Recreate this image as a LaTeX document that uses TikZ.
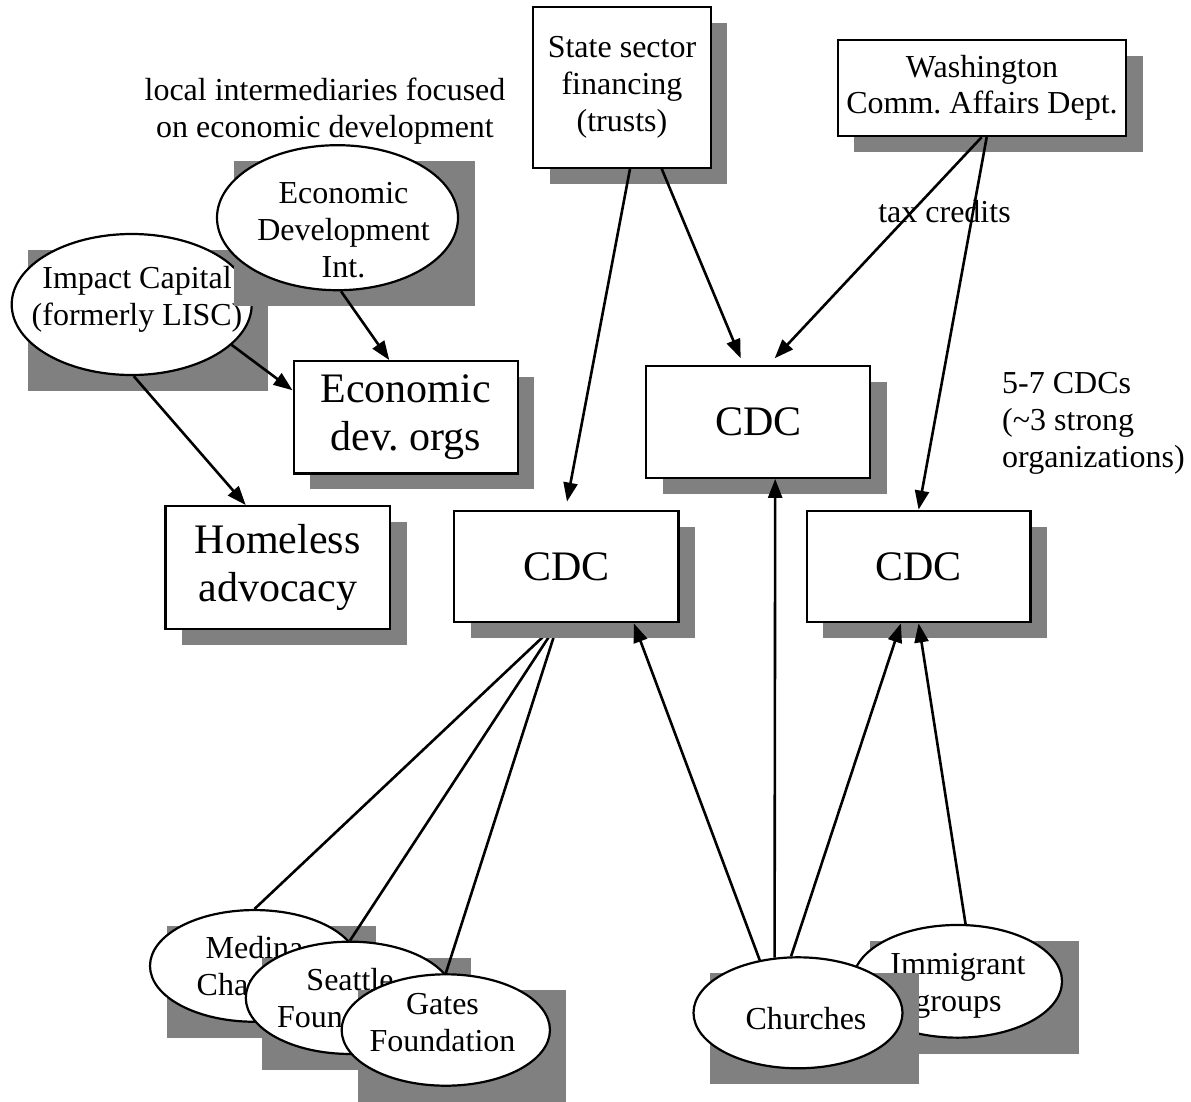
\documentclass[tikz,border=0pt]{standalone}
\usepackage{fontspec}
\setmainfont{Liberation Serif}
\usetikzlibrary{calc,arrows.meta,shapes.geometric}
\newcommand\smallfnt{\fontsize{32}{36.8}\selectfont}
\newcommand\bigfnt{\fontsize{42}{48.3}\selectfont}
\definecolor{shadowgray}{RGB}{128,128,128}
\newcommand\dropshade[4]{\fill[dropgrey] ({#1-0.5*#3+16.5},{#2-0.5*#4+16}) rectangle ++(#3,#4);}
\frenchspacing
\begin{document}
\begin{tikzpicture}[x=1pt,y=-1pt,
  dropgrey/.style={fill=shadowgray},
  box/.style={draw, line width=2.2pt, fill=white, inner sep=0pt, align=center},
  oval/.style={ellipse, draw, line width=2.2pt, fill=white, inner sep=0pt},
  txt/.style={inner sep=0pt, align=center, font=\smallfnt},
  conn/.style={line width=2.6pt, -{Triangle[length=19pt,width=14pt]}},
  link/.style={line width=2.6pt}]
\useasboundingbox (0,0) rectangle (1191,1101);

% --- top left: intermediaries
\dropshade{131.7}{304.5}{240}{141}
\node[oval, minimum width=240pt, minimum height=141pt] (impact) at (131.7,304.5) {};
\node[txt] (impacttxt) at (137,299) {Impact Capital\\(formerly LISC)};
\dropshade{337.5}{217.7}{241}{145}
\node[oval, minimum width=241pt, minimum height=145pt] (edi) at (337.5,217.7) {};
\node[txt] (editxt) at (343.5,230.3) {Economic\\Development\\Int.};
\node[txt] (localnote) at (325,111) {local intermediaries focused\\on economic development};

\dropshade{405.75}{417.25}{224.3}{112.3}
\node[box, font=\bigfnt, minimum width=224.3pt, minimum height=112.3pt] (eorg) at (405.75,417.25) {Economic\\dev. orgs};
\dropshade{277.7}{567.45}{224.6}{122.7}
\node[box, font=\bigfnt, minimum width=224.6pt, minimum height=122.7pt] (hless) at (277.7,567.45) {Homeless\\advocacy};

% --- top funders
\dropshade{622}{87.5}{177.4}{160.4}
\node[box, font=\smallfnt, minimum width=177.4pt, minimum height=160.4pt] (state) at (622,87.5) {State sector\\financing\\(trusts)};
\dropshade{982}{87.85}{288.6}{96.3}
\node[box, font=\smallfnt, minimum width=288.6pt, minimum height=96.3pt] (wash) at (982,87.85) {Washington\\Comm. Affairs Dept.};
\node[txt] (taxcred) at (944.5,211.8) {tax credits};

% --- CDCs
\dropshade{758.2}{421.9}{224.3}{111.7}
\node[box, font=\bigfnt, minimum width=224.3pt, minimum height=111.7pt] (mcdc) at (758.2,421.9) {CDC};
\dropshade{918.6}{566.5}{223.8}{111.6}
\node[box, font=\bigfnt, minimum width=223.8pt, minimum height=111.6pt] (rcdc) at (918.6,566.5) {CDC};
\node[txt, align=left, anchor=north west] (cdcnote) at (1002,372.4) {5-7 CDCs\\(\textasciitilde3 strong\\organizations)};

% --- foundations
\dropshade{254.5}{965.9}{209}{111.7}
\node[oval, minimum width=209pt, minimum height=111.7pt] (medina) at (254.5,965.9) {};
\node[txt] (medinatxt) at (254.5,965.7) {Medina\\Charities};
\dropshade{350}{997.8}{208.4}{112.3}
\node[oval, minimum width=208.4pt, minimum height=112.3pt] (seattle) at (350,997.8) {};
\node[txt] (seattletxt) at (350,998.2) {Seattle\\Foundation};
\dropshade{445.8}{1030}{208.3}{111.4}
\node[oval, minimum width=208.3pt, minimum height=111.4pt] (gates) at (445.8,1030) {};
\node[txt] (gatestxt) at (442.5,1022.7) {Gates\\Foundation};

% lines into the left CDC, their ends hidden under its shadow
\coordinate (lcdcin) at (558.4,622.3);
\draw[link] (medina.north) -- (lcdcin);
\draw[link] (seattle.north) -- (lcdcin);
\draw[link] (gates.north) -- (lcdcin);

\dropshade{566.4}{566.5}{224.2}{111.6}
\node[box, font=\bigfnt, minimum width=224.2pt, minimum height=111.6pt] (lcdc) at (566.4,566.5) {CDC};

% --- community groups
\dropshade{957.5}{981.3}{209}{112.7}
\node[oval, minimum width=209pt, minimum height=112.7pt] (immigrant) at (957.5,981.3) {};
\node[txt] (immigranttxt) at (958,985.9) {Immigrant\\groups};
\dropshade{798}{1012.8}{209}{111}
\node[oval, minimum width=209pt, minimum height=111pt] (churches) at (798,1012.8) {};
\node[txt] (churchestxt) at (806,1019) {Churches};

% --- connectors
\draw[conn] ($(state.south)+(8,0)$) -- ($(lcdc.north)+(0.6,-8)$);
\draw[conn] ($(state.south)+(39.7,0)$) -- ($(mcdc.north)+(-17.5,-6.7)$);
\draw[conn] ($(wash.south)+(-0.3,0)$) -- ($(mcdc.north)+(16.5,-6.7)$);
\draw[conn] ($(wash.south)+(4.7,0)$) -- (rcdc.north);
\draw[conn] ($(edi.south)+(3.5,0)$) -- ($(eorg.north)+(-16.5,0)$);
\draw[conn] (impact.-22) -- ($(eorg.west)+(0,-27)$);
\draw[conn] ($(impact.south)+(2,0)$) -- ($(hless.north)+(-32,0)$);
\draw[conn] (churches.126) -- ($(lcdc.south)+(67.5,0)$);
\draw[conn] (churches.113) -- ($(mcdc.south)+(17,0)$);
\draw[conn] (churches.97) -- ($(rcdc.south)+(-17.7,0)$);
\draw[conn] (immigrant.82) -- (rcdc.south);
\end{tikzpicture}
\end{document}
